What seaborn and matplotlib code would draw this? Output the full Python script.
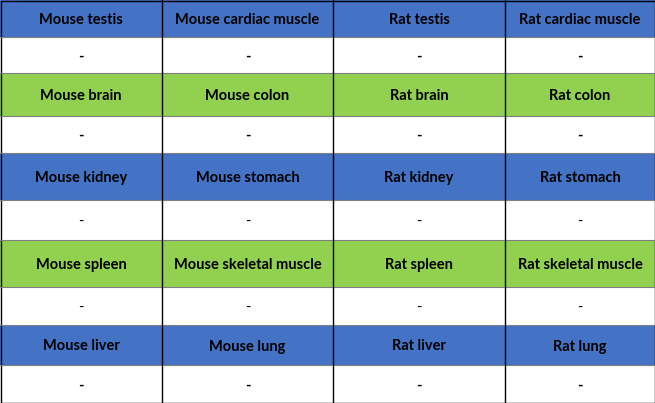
import matplotlib
matplotlib.use("Agg")
import matplotlib.pyplot as plt
import seaborn as sns
from matplotlib.patches import Rectangle

sns.set_style("white")
plt.rcParams['font.family'] = ['Lato', 'DejaVu Sans']

# table content
header_rows = [
    ["Mouse testis", "Mouse cardiac muscle", "Rat testis", "Rat cardiac muscle"],
    ["Mouse brain", "Mouse colon", "Rat brain", "Rat colon"],
    ["Mouse kidney", "Mouse stomach", "Rat kidney", "Rat stomach"],
    ["Mouse spleen", "Mouse skeletal muscle", "Rat spleen", "Rat skeletal muscle"],
    ["Mouse liver", "Mouse lung", "Rat liver", "Rat lung"],
]
value_rows = [["-"] * 4 for _ in range(5)]
value_bold = [True, True, False, False, True]
row_colors = ["#4472C4", "#92D050", "#4472C4", "#92D050", "#4472C4"]

# layout (pixels)
W, H = 655, 403
col_edges = [0, 162, 333, 505, 655]
row_edges = [0, 37, 73, 116, 153, 200, 240, 287, 325, 365, 403]

fig = plt.figure(figsize=(W / 100, H / 100), dpi=100)
ax = fig.add_axes([0, 0, 1, 1])
ax.set_xlim(0, W)
ax.set_ylim(H, 0)
ax.axis("off")

for i in range(5):
    for kind in range(2):
        r = 2 * i + kind
        y0, y1 = row_edges[r], row_edges[r + 1]
        color = row_colors[i] if kind == 0 else "white"
        ax.add_patch(Rectangle((0, y0), W, y1 - y0, facecolor=color, edgecolor="none"))
        labels = header_rows[i] if kind == 0 else value_rows[i]
        bold = True if kind == 0 else value_bold[i]
        for c, lab in enumerate(labels):
            xc = (col_edges[c] + col_edges[c + 1]) / 2
            ax.text(xc, (y0 + y1) / 2, lab, ha="center", va="center_baseline",
                    fontsize=10.5, fontweight="bold" if bold else "normal", color="black")

for y in row_edges[1:-1]:
    ax.plot([0, W], [y, y], color="#7f7f7f", lw=0.8)
for x in col_edges[1:-1]:
    ax.plot([x, x], [0, H], color="black", lw=1)
ax.add_patch(Rectangle((0.5, 0.5), W - 1, H - 1, fill=False, edgecolor="black", lw=1))

fig.savefig("out.png", dpi=100)
